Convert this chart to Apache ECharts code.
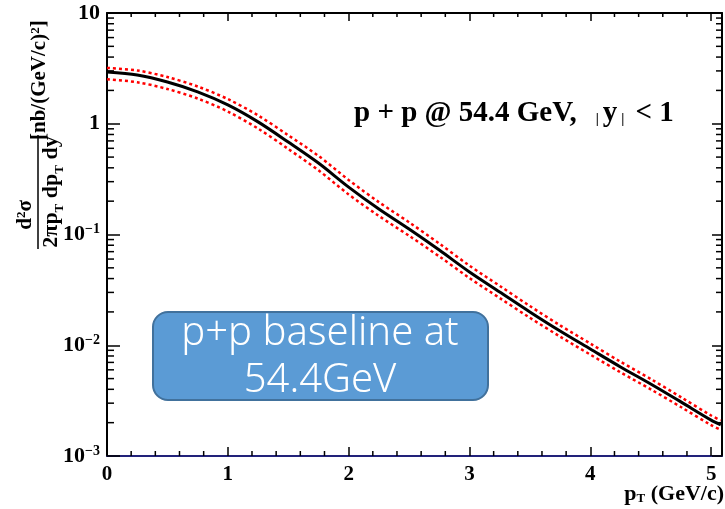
<!DOCTYPE html>
<html><head><meta charset="utf-8">
<script src="https://cdn.jsdelivr.net/npm/echarts@6/dist/echarts.min.js"></script>
<style>html,body{margin:0;padding:0;background:#fff}#c{width:725px;height:509px}</style>
</head><body><div id="c"></div>
<script>
// ---- data ----
const ptValues   = [0, 0.25, 0.5, 0.75, 1, 1.25, 1.5, 1.75, 2, 2.25, 2.5, 2.75, 3, 3.25, 3.5, 3.75, 4, 4.25, 4.5, 4.75, 5, 5.08];
const central    = [2.93, 2.75, 2.38, 1.94, 1.48, 1.04, 0.684, 0.442, 0.268, 0.170, 0.112, 0.0724, 0.0459, 0.0303, 0.0200, 0.01345, 0.00925, 0.00637, 0.00447, 0.00308, 0.00211, 0.00191];
const upperBand  = [3.19, 3.03, 2.64, 2.17, 1.67, 1.19, 0.787, 0.513, 0.311, 0.196, 0.129, 0.0829, 0.0523, 0.0344, 0.0226, 0.01513, 0.01036, 0.00710, 0.00496, 0.00340, 0.00232, 0.00210];
const lowerBand  = [2.52, 2.37, 2.06, 1.69, 1.29, 0.905, 0.592, 0.380, 0.230, 0.147, 0.0974, 0.0634, 0.0404, 0.0267, 0.0177, 0.01197, 0.00823, 0.00570, 0.00400, 0.00277, 0.00190, 0.00172];
const xMajorTicks = [0, 1, 2, 3, 4, 5];
const xMinorSteps = [0.2, 0.4, 0.6, 0.8];
const yDecades = [0.001, 0.01, 0.1, 1];
const yMinorMultipliers = [2, 3, 4, 5, 6, 7, 8, 9];
const xRange = [0, 5.09];
const yRange = [0.001, 10];

const xMinorTicks = [];
xMajorTicks.slice(0, 5).forEach(b => xMinorSteps.forEach(s => xMinorTicks.push(+(b + s).toFixed(2))));
const yMinorTicks = [];
yDecades.forEach(d => yMinorMultipliers.forEach(m => yMinorTicks.push(+(d * m).toPrecision(3))));

const SERIF = 'Liberation Serif';
const chart = echarts.init(document.getElementById('c'), null, {renderer: 'canvas'});

function pair(xs, ys) { return xs.map((x, i) => [x, ys[i]]); }

const yLabelFmt = function (v) {
  const e = Math.round(Math.log10(v));
  if (e === 1) return '{b|10}';
  if (e === 0) return '{b|1}';
  return '{b|10}{e|\u2212' + (-e) + '}';
};

const baseGraphic = [
  // y-axis title (rotated fraction)
  {type: 'group', x: 38, y: 192, rotation: Math.PI / 2, children: [
    {type: 'line', shape: {x1: -57, y1: 0, x2: 57, y2: 0}, style: {stroke: '#000', lineWidth: 1.5}},
    {type: 'text', x: -23, y: -1, style: {
      text: '{m|d}{s|2}{m|\u03c3}', align: 'center', verticalAlign: 'bottom',
      rich: {m: {fontFamily: SERIF, fontWeight: 'bold', fontSize: 21, lineHeight: 22},
             s: {fontFamily: SERIF, fontWeight: 'bold', fontSize: 13, lineHeight: 13, verticalAlign: 'top'}}}},
    {type: 'text', x: 0, y: 2, style: {
      text: '{m|2\u03c0p}{t|T}{m| dp}{t|T}{m| dy}', align: 'center', verticalAlign: 'top',
      rich: {m: {fontFamily: SERIF, fontWeight: 'bold', fontSize: 22, lineHeight: 26, verticalAlign: 'top'},
             t: {fontFamily: SERIF, fontWeight: 'bold', fontSize: 13, lineHeight: 13, verticalAlign: 'bottom'}}}},
    {type: 'text', x: 52, y: 2, style: {
      text: '{m|[nb/(GeV/c)}{s|2}{m|]}', align: 'left', verticalAlign: 'middle',
      rich: {m: {fontFamily: SERIF, fontWeight: 'bold', fontSize: 21, lineHeight: 22},
             s: {fontFamily: SERIF, fontWeight: 'bold', fontSize: 13, lineHeight: 13, verticalAlign: 'top'}}}}
  ]},
  // x-axis title
  {type: 'text', right: 1, top: 483, style: {
    text: '{m|p}{t|T}{m| (GeV/c)}',
    rich: {m: {fontFamily: SERIF, fontWeight: 'bold', fontSize: 22, lineHeight: 22, verticalAlign: 'top'},
           t: {fontFamily: SERIF, fontWeight: 'bold', fontSize: 13, lineHeight: 15, verticalAlign: 'bottom'}}}},
  // annotation
  {type: 'text', left: 354, top: 99, style: {
    text: '{a|p + p @ 54.4 GeV,}{g| }{v||}{a|y}{v||}{a| < 1}',
    rich: {a: {fontFamily: SERIF, fontWeight: 'bold', fontSize: 29, lineHeight: 30, color: '#000'},
           g: {fontFamily: SERIF, fontSize: 29, lineHeight: 30, width: 15},
           v: {fontFamily: SERIF, fontWeight: 'bold', fontSize: 14, lineHeight: 14, verticalAlign: 'bottom', color: '#000', padding: [0, 4, 2, 4]}}}},
  // blue box
  {type: 'rect', shape: {x: 153, y: 312, width: 335, height: 88, r: 15},
    style: {fill: '#5b9bd5', stroke: '#41719c', lineWidth: 2}, z: 10},
  {type: 'text', x: 320, y: 334, z: 11, style: {text: 'p+p baseline at', align: 'center', verticalAlign: 'middle',
    fill: '#fff', font: '300 40px "Noto Sans"'}},
  {type: 'text', x: 320, y: 381, z: 11, style: {text: '54.4GeV', align: 'center', verticalAlign: 'middle',
    fill: '#fff', font: '300 40px "Noto Sans"'}}
];

const option = {
  animation: false,
  textStyle: {fontFamily: SERIF},
  grid: {left: 107, right: 2, top: 13, bottom: 53},
  xAxis: [{
    type: 'value', min: xRange[0], max: xRange[1], interval: 1, position: 'bottom',
    axisLine: {onZero: false, lineStyle: {color: '#22227a', width: 2}},
    axisTick: {inside: true, length: 9, lineStyle: {color: '#000', width: 1.5}},
    axisLabel: {margin: 8, color: '#000', fontFamily: SERIF, fontWeight: 'bold', fontSize: 21,
      formatter: v => (Math.abs(v - Math.round(v)) < 1e-6 ? String(Math.round(v)) : '')},
    splitLine: {show: false}
  }, {
    type: 'value', min: xRange[0], max: xRange[1], interval: 1, position: 'top',
    axisLine: {onZero: false, lineStyle: {color: '#000', width: 2}},
    axisTick: {inside: true, length: 8, lineStyle: {color: '#000', width: 1.5}},
    axisLabel: {show: false}, splitLine: {show: false}
  }],
  yAxis: [{
    type: 'log', logBase: 10, min: yRange[0], max: yRange[1], position: 'left',
    axisLine: {onZero: false, lineStyle: {color: '#000', width: 2}},
    axisTick: {inside: true, length: 13, lineStyle: {color: '#000', width: 1.5}},
    axisLabel: {margin: 7, color: '#000', formatter: yLabelFmt,
      rich: {
        b: {fontFamily: SERIF, fontWeight: 'bold', fontSize: 22, color: '#000', lineHeight: 24},
        e: {fontFamily: SERIF, fontWeight: 'bold', fontSize: 14, color: '#000', lineHeight: 14, verticalAlign: 'top'}
      }},
    splitLine: {show: false}
  }, {
    type: 'log', logBase: 10, min: yRange[0], max: yRange[1], position: 'right',
    axisLine: {onZero: false, lineStyle: {color: '#000', width: 2}},
    axisTick: {inside: true, length: 10, lineStyle: {color: '#000', width: 1.5}},
    axisLabel: {show: false}, splitLine: {show: false}
  }],
  series: [
    {type: 'line', data: pair(ptValues, upperBand), smooth: 0.3, showSymbol: false, silent: true,
      lineStyle: {color: '#ff0000', width: 2.5, type: [3, 3]}, z: 2},
    {type: 'line', data: pair(ptValues, lowerBand), smooth: 0.3, showSymbol: false, silent: true,
      lineStyle: {color: '#ff0000', width: 2.5, type: [3, 3]}, z: 2},
    {type: 'line', data: pair(ptValues, central), smooth: 0.3, showSymbol: false, silent: true,
      lineStyle: {color: '#000', width: 3}, z: 3}
  ],
  graphic: baseGraphic
};
chart.setOption(option);

// minor ticks: positions come from the chart's own axis scales
const px = v => chart.convertToPixel({xAxisIndex: 0}, v);
const py = v => chart.convertToPixel({yAxisIndex: 0}, v);
const L = px(xRange[0]), R = px(xRange[1]), T = py(yRange[1]), B = py(yRange[0]);
const tickStyle = {stroke: '#000', lineWidth: 1.5};
const tickEls = [];
yMinorTicks.forEach(v => {
  const y = py(v);
  if (!isFinite(y)) return;
  tickEls.push({type: 'line', silent: true, z: 5, shape: {x1: L, y1: y, x2: L + 7, y2: y}, style: tickStyle});
  tickEls.push({type: 'line', silent: true, z: 5, shape: {x1: R, y1: y, x2: R - 6, y2: y}, style: tickStyle});
});
xMinorTicks.forEach(v => {
  const x = px(v);
  if (!isFinite(x)) return;
  tickEls.push({type: 'line', silent: true, z: 5, shape: {x1: x, y1: B, x2: x, y2: B - 5}, style: tickStyle});
  tickEls.push({type: 'line', silent: true, z: 5, shape: {x1: x, y1: T, x2: x, y2: T + 4}, style: tickStyle});
});
chart.setOption({graphic: baseGraphic.concat(tickEls)});
</script>
</body></html>
